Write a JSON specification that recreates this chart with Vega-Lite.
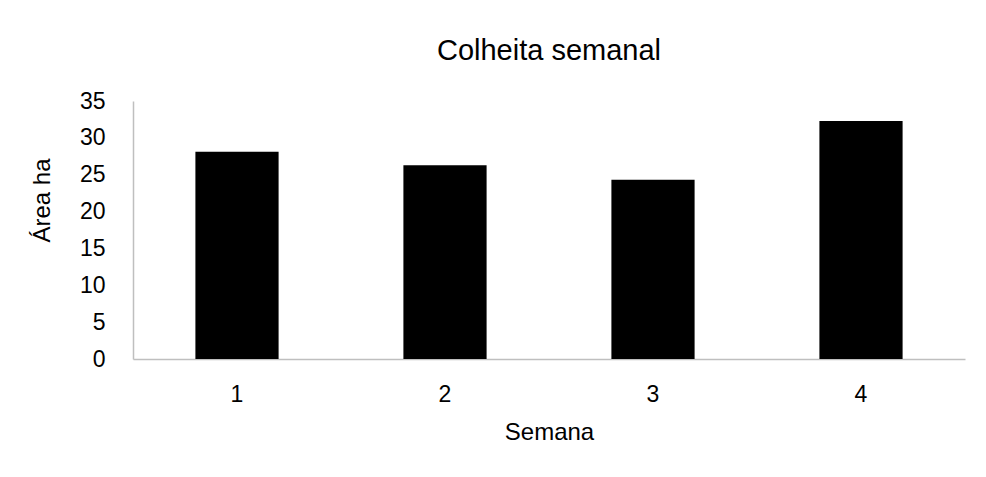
{
  "$schema": "https://vega.github.io/schema/vega-lite/v6.json",
  "autosize": {"type": "none"},
  "width": 832,
  "height": 258,
  "padding": {"left": 133, "top": 101, "right": 21, "bottom": 118},
  "background": "white",
  "config": {
    "view": {"stroke": null},
    "font": "Liberation Sans",
    "axis": {"labelFont": "Liberation Sans", "titleFont": "Liberation Sans", "labelColor": "#000000", "titleColor": "#000000", "titleFontWeight": "normal"}
  },
  "title": {
    "text": "Colheita semanal",
    "font": "Liberation Sans",
    "fontSize": 29,
    "fontWeight": "normal",
    "color": "#000000",
    "anchor": "middle",
    "offset": 24
  },
  "data": {
    "values": [
      {"Semana": "1", "Area": 28.1},
      {"Semana": "2", "Area": 26.3},
      {"Semana": "3", "Area": 24.3},
      {"Semana": "4", "Area": 32.3}
    ]
  },
  "mark": {"type": "bar", "color": "#000000"},
  "encoding": {
    "x": {
      "field": "Semana",
      "type": "ordinal",
      "scale": {"paddingInner": 0.6, "paddingOuter": 0.3},
      "axis": {
        "title": "Semana",
        "labelAngle": 0,
        "labelFontSize": 23,
        "titleFontSize": 24,
        "ticks": false,
        "domainColor": "#bfbfbf",
        "domainWidth": 1.5,
        "labelPadding": 24,
        "titlePadding": 14
      }
    },
    "y": {
      "field": "Area",
      "type": "quantitative",
      "scale": {"domain": [0, 35]},
      "axis": {
        "title": "Área ha",
        "values": [0, 5, 10, 15, 20, 25, 30, 35],
        "labelFontSize": 23,
        "titleFontSize": 24,
        "ticks": false,
        "grid": false,
        "domainColor": "#bfbfbf",
        "domainWidth": 1.5,
        "labelPadding": 28,
        "titleX": -91,
        "titleY": 99,
        "titleAngle": -90,
        "titleAlign": "center",
        "titleBaseline": "middle"
      }
    }
  }
}
